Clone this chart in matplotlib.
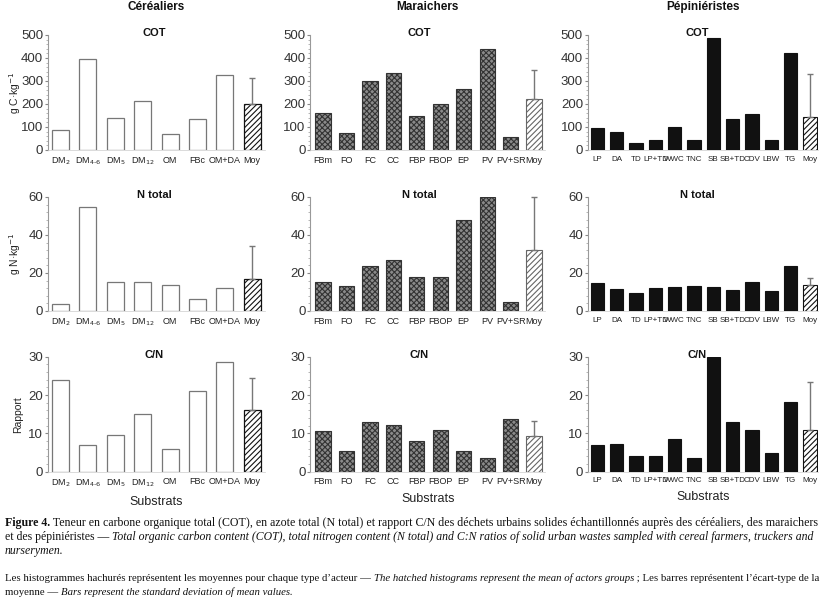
import numpy as np
import matplotlib
matplotlib.use("Agg")
import matplotlib.pyplot as plt
from matplotlib.ticker import MultipleLocator, AutoMinorLocator

plt.rcParams['font.family'] = ['Liberation Sans', 'DejaVu Sans']
plt.rcParams['hatch.linewidth'] = 0.8

# Données
lab_cer = ["DM$_2$", "DM$_{4\\text{-}6}$", "DM$_5$", "DM$_{12}$", "OM", "FBc", "OM+DA", "Moy"]
lab_mar = ["FBm", "FO", "FC", "CC", "FBP", "FBOP", "EP", "PV", "PV+SR", "Moy"]
lab_pep = ["LP", "DA", "TD", "LP+TD", "WWC", "TNC", "SB", "SB+TD", "CDV", "LBW", "TG", "Moy"]

cot_cer = [85, 395, 140, 215, 70, 135, 328, 200]
cot_mar = [160, 72, 302, 335, 148, 202, 265, 440, 55, 220]
cot_pep = [95, 78, 32, 42, 102, 42, 485, 135, 155, 45, 420, 145]
cot_err = [115, 128, 185]

n_cer = [3.5, 54.5, 15.5, 15, 13.5, 6.5, 12, 17]
n_mar = [15, 13, 23.5, 27, 18, 18, 48, 60, 4.5, 32]
n_pep = [14.5, 11.5, 9.5, 12, 12.5, 13, 12.5, 11, 15, 10.5, 23.5, 13.5]
n_err = [17, 28, 4]

cn_cer = [24, 7, 9.5, 15, 6, 21, 28.5, 16]
cn_mar = [10.5, 5.5, 13, 12.3, 8, 10.8, 5.5, 3.5, 13.8, 9.2]
cn_pep = [7, 7.2, 4, 4.2, 8.5, 3.6, 30, 13, 11, 4.8, 18.2, 11]
cn_err = [8.5, 4.1, 12.5]

col_titles = ["Céréaliers", "Maraichers", "Pépiniéristes"]
row_titles = ["COT", "N total", "C/N"]
ylabels = ["g C·kg$^{-1}$", "g N·kg$^{-1}$", "Rapport"]
ylims = [500, 60, 30]
ymaj = [100, 20, 10]

data = [[cot_cer, cot_mar, cot_pep], [n_cer, n_mar, n_pep], [cn_cer, cn_mar, cn_pep]]
errs = [cot_err, n_err, cn_err]
labels = [lab_cer, lab_mar, lab_pep]

fig = plt.figure(figsize=(8.21, 6.0), dpi=100)

# positions des axes (fractions de la figure)
lefts = [0.0585, 0.378, 0.716]
widths = [0.3228 - 0.0585, 0.664 - 0.378, 0.996 - 0.716]
bottoms = [0.75, 0.4817, 0.2138]
heights = [0.9417 - 0.75, 0.6717 - 0.4817, 0.4055 - 0.2138]
xlims = [(-0.457, 7.47), (-0.54, 9.47), (-0.5, 11.4)]
bw = [0.62, 0.65, 0.69]
tsize = [6.5, 6.5, 5.8]
title_x = [154, 419, 697]  # centre des titres de panneau (px)

for r in range(3):
    for c in range(3):
        ax = fig.add_axes([lefts[c], bottoms[r], widths[c], heights[r]])
        vals = data[r][c]
        x = np.arange(len(vals))
        n = len(vals) - 1
        if c == 0:
            ax.bar(x[:n], vals[:n], bw[c], color="white", edgecolor="#777777", linewidth=0.9)
            ax.bar(x[n], vals[n], bw[c], color="white", edgecolor="#111111", hatch="//////", linewidth=0.9)
        elif c == 1:
            ax.bar(x[:n], vals[:n], bw[c], color="#8a8a8a", edgecolor="#333333", hatch="xxxxxx", linewidth=0.8)
            ax.bar(x[n], vals[n], bw[c], color="white", edgecolor="#666666", hatch="//////", linewidth=0.8)
        else:
            ax.bar(x[:n], vals[:n], bw[c], color="#111111", edgecolor="#111111", linewidth=0.8)
            ax.bar(x[n], vals[n], bw[c], color="white", edgecolor="#111111", hatch="//////", linewidth=0.8)
        ax.errorbar(x[n], vals[n], yerr=[[0], [errs[r][c]]], color="#777777",
                    elinewidth=1.0, capsize=2, capthick=1.0, fmt="none", clip_on=False)

        ax.set_xlim(*xlims[c])
        ax.set_ylim(0, ylims[r])
        ax.yaxis.set_major_locator(MultipleLocator(ymaj[r]))
        ax.yaxis.set_minor_locator(AutoMinorLocator(5))
        ax.set_xticks(x)
        ax.set_xticklabels(labels[c], fontsize=tsize[c], color="#222222")
        ax.tick_params(axis="x", length=0, pad=4)
        ax.tick_params(axis="y", which="major", length=2.5, width=0.8, labelsize=9.5,
                       color="#888888", labelcolor="#333333", pad=1)
        ax.tick_params(axis="y", which="minor", length=1.5, width=0.6, color="#aaaaaa")
        for s in ["top", "right"]:
            ax.spines[s].set_visible(False)
        ax.spines["left"].set_color("#999999")
        ax.spines["left"].set_linewidth(0.8)
        ax.spines["bottom"].set_color("#cccccc")
        ax.spines["bottom"].set_linewidth(0.5)
        ax.set_facecolor("none")
        fig.text(title_x[c] / 821, bottoms[r] + heights[r] + 2 / 600, row_titles[r],
                 ha="center", va="center", fontsize=8, fontweight="bold", color="#111111")
        if c == 0:
            ax.set_ylabel(ylabels[r], fontsize=7.5, color="#222222")
            ax.yaxis.set_label_coords(-0.115, 0.5)
        if r == 2:
            ax.set_xlabel("Substrats", fontsize=9, color="#222222", labelpad=5)
        if r == 0:
            fig.text(lefts[c] + widths[c] / 2, 1 - 7 / 600, col_titles[c], ha="center", va="center",
                     fontsize=8.5, fontweight="bold", color="#111111")

# Légende de la figure : segments (texte, graisse, style) ; les lignes pleines
# sont mises à la largeur de la page en ajustant la taille de police
caption = [
    (526, True, [("Figure 4.", "bold", "normal"),
                 (" Teneur en carbone organique total (COT), en azote total (N total) et rapport C/N des déchets urbains solides échantillonnés auprès des céréaliers, des maraichers", "normal", "normal")]),
    (540, True, [("et des pépiniéristes \u2014 ", "normal", "normal"),
                 ("Total organic carbon content (COT), total nitrogen content (N total) and C:N ratios of solid urban wastes sampled with cereal farmers, truckers and", "normal", "italic")]),
    (554, False, [("nurserymen.", "normal", "italic")]),
    (581, True, [("Les histogrammes hachurés représentent les moyennes pour chaque type d\u2019acteur \u2014 ", "normal", "normal"),
                 ("The hatched histograms represent the mean of actors groups", "normal", "italic"),
                 (" ; Les barres représentent l\u2019écart-type de la", "normal", "normal")]),
    (595, False, [("moyenne \u2014 ", "normal", "normal"),
                  ("Bars represent the standard deviation of mean values.", "normal", "italic")]),
]

renderer = fig.canvas.get_renderer()
x0, x1 = 5.0, 812.0


def line_width(segs, size):
    tot = 0
    for txt, w, st in segs:
        t = fig.text(0, 0, txt, fontsize=size, fontweight=w, style=st, family="Liberation Serif")
        tot += t.get_window_extent(renderer).width
        t.remove()
    return tot


def draw_line(ypix, segs, size):
    xp = x0
    for txt, w, st in segs:
        t = fig.text(xp / 821, 1 - ypix / 600, txt, fontsize=size, fontweight=w, style=st,
                     family="Liberation Serif", va="baseline", ha="left", color="#111111")
        xp += t.get_window_extent(renderer).width


sizes = []
for ypix, full, segs in caption:
    if full:
        sizes.append(min(9 * (x1 - x0) / line_width(segs, 9), 9))
    else:
        sizes.append(None)
# lignes de fin de paragraphe : taille de la ligne précédente
for i in range(len(sizes)):
    if sizes[i] is None:
        sizes[i] = sizes[i - 1]
for (ypix, full, segs), s in zip(caption, sizes):
    draw_line(ypix, segs, s)

fig.savefig("out.png", dpi=100)
